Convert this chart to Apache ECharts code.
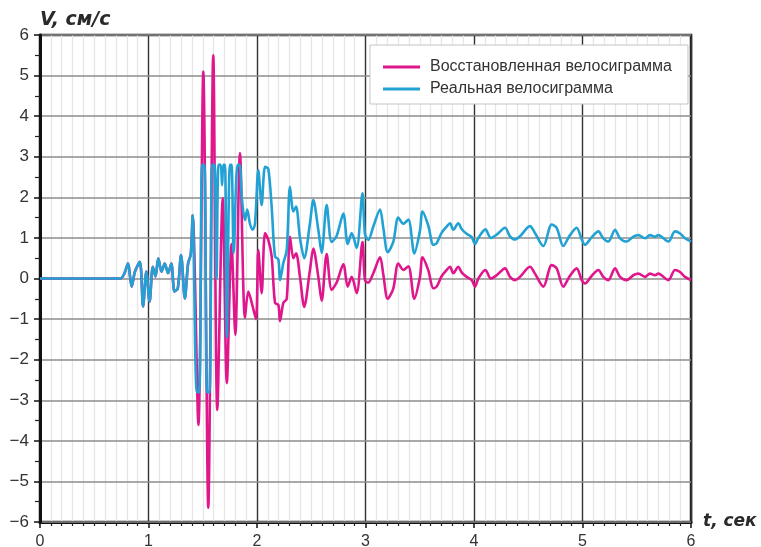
<!DOCTYPE html>
<html>
<head>
<meta charset="utf-8">
<script src="https://cdn.jsdelivr.net/npm/echarts@6/dist/echarts.min.js"></script>
<style>
  html, body { margin: 0; padding: 0; background: #fff; }
  #main { width: 761px; height: 547px; }
</style>
</head>
<body>
<div id="main"></div>
<script>
// restored velocigram (magenta), time in seconds / velocity in cm/s
const restoredT = [0, 0.74, 0.78, 0.81, 0.845, 0.875, 0.92, 0.95, 0.98, 1.01, 1.04, 1.065, 1.09, 1.12, 1.15, 1.18, 1.21, 1.24, 1.27, 1.30, 1.335, 1.365, 1.39, 1.407,
  1.46, 1.505, 1.551, 1.597, 1.634, 1.684, 1.722, 1.765, 1.80, 1.843, 1.889, 1.92, 1.96, 1.991, 2.012, 2.043, 2.074, 2.104, 2.135, 2.166, 2.197, 2.212, 2.243, 2.274,
  2.304, 2.335, 2.36, 2.396, 2.435, 2.488, 2.519, 2.565, 2.596, 2.642, 2.688, 2.734, 2.796, 2.836, 2.873, 2.919, 2.972, 2.995, 3.026, 3.072, 3.134, 3.164, 3.205,
  3.256, 3.302, 3.349, 3.395, 3.45, 3.502, 3.525, 3.579, 3.625, 3.656, 3.70, 3.748, 3.779, 3.809, 3.855, 3.886, 3.932, 3.979, 4.009, 4.04, 4.105, 4.155, 4.209,
  4.286, 4.332, 4.378, 4.424, 4.516, 4.562, 4.639, 4.716, 4.762, 4.823, 4.88, 4.946, 4.993, 5.023, 5.08, 5.146, 5.192, 5.238, 5.30, 5.346, 5.407, 5.468, 5.515,
  5.576, 5.622, 5.668, 5.699, 5.791, 5.853, 5.899, 5.945, 6.0];
const restoredV = [0, 0, 0.14, 0.37, -0.2, 0.17, 0.41, -0.69, 0.17, -0.57, 0.29, 0.05, 0.5, 0.17, 0.37, 0.13, 0.37, -0.32, -0.24, 0.58, -0.49, 0.37, 0.6, 1.56,
  -3.61, 5.1, -5.65, 5.5, -3.24, 1.98, -2.58, 0.85, -1.39, 3.09, -0.97, -0.32, -0.69, -1.0, 0.7, -0.36, 1.12, 0.95, 0.55, -0.6, -0.65, -1.05, -0.6, -0.5,
  1.03, 0.5, 0.62, 0.04, -0.7, 0.21, 0.74, 0.04, -0.55, 0.6, -0.28, -0.1, 0.35, -0.2, 0.04, -0.36, 0.9, -0.04, -0.1, 0.13, 0.52, 0.1, -0.5,
  -0.25, 0.37, 0.21, 0.3, -0.5, 0.04, 0.52, 0.2, -0.24, -0.2, 0.05, 0.21, 0.29, 0.13, 0.29, 0.15, 0.04, -0.04, -0.2, 0.0, 0.21, 0.0, 0.08,
  0.25, 0.04, -0.04, 0.04, 0.29, 0.12, -0.2, 0.33, 0.25, -0.2, 0.05, 0.25, -0.04, -0.12, 0.05, 0.21, 0.04, -0.04, 0.25, 0.04, -0.04, 0.08, 0.12,
  0.04, 0.12, 0.08, 0.12, -0.04, 0.21, 0.16, 0.04, -0.04];

// real velocigram (blue)
const realT = [0, 0.74, 0.78, 0.81, 0.845, 0.875, 0.92, 0.95, 0.98, 1.01, 1.04, 1.065, 1.09, 1.12, 1.15, 1.18, 1.21, 1.24, 1.27, 1.30, 1.335, 1.365, 1.39, 1.407,
  1.445, 1.468, 1.494, 1.516, 1.539, 1.563, 1.586, 1.608, 1.627, 1.645, 1.665, 1.678, 1.69, 1.705, 1.722, 1.75, 1.765, 1.785, 1.82, 1.84, 1.86, 1.889, 1.91,
  1.935, 1.96, 1.982, 2.012, 2.043, 2.074, 2.104, 2.135, 2.166, 2.197, 2.212, 2.243, 2.274,
  2.304, 2.335, 2.36, 2.396, 2.435, 2.488, 2.519, 2.565, 2.596, 2.642, 2.688, 2.734, 2.796, 2.836, 2.873, 2.919, 2.972, 2.995, 3.026, 3.072, 3.134, 3.164, 3.205,
  3.256, 3.302, 3.349, 3.395, 3.45, 3.502, 3.525, 3.579, 3.625, 3.656, 3.70, 3.748, 3.779, 3.809, 3.855, 3.886, 3.932, 3.979, 4.009, 4.04, 4.105, 4.155, 4.209,
  4.286, 4.332, 4.378, 4.424, 4.516, 4.562, 4.639, 4.716, 4.762, 4.823, 4.88, 4.946, 4.993, 5.023, 5.08, 5.146, 5.192, 5.238, 5.30, 5.346, 5.407, 5.468, 5.515,
  5.576, 5.622, 5.668, 5.699, 5.791, 5.853, 5.899, 5.945, 6.0];
const realV = [0, 0, 0.14, 0.37, -0.2, 0.17, 0.41, -0.69, 0.17, -0.57, 0.29, 0.05, 0.5, 0.17, 0.37, 0.13, 0.37, -0.32, -0.24, 0.58, -0.49, 0.37, 0.6, 1.56,
  -2.8, -2.8, 2.8, 2.8, -2.8, -2.8, 2.8, 2.8, 0.0, 2.8, 2.8, 2.3, 2.8, 2.8, -1.44, 2.8, 2.8, 0.63, 2.8, 2.8, 2.0, 1.44, 1.7,
  1.35, 1.2, 1.36, 2.67, 1.81, 2.75, 2.7, 1.77, 0.54, 0.47, -0.04, 0.38, 0.7,
  2.26, 1.65, 1.77, 1.0, 0.5, 1.36, 1.93, 1.2, 0.63, 1.81, 0.9, 1.05, 1.6, 0.85, 1.12, 0.75, 2.1, 1.1, 0.95, 1.28, 1.7, 1.25, 0.65,
  0.9, 1.5, 1.35, 1.45, 0.62, 1.18, 1.65, 1.3, 0.83, 0.87, 1.12, 1.28, 1.36, 1.2, 1.36, 1.22, 1.1, 1.02, 0.85, 1.0, 1.21, 1.0, 1.08,
  1.25, 1.04, 0.96, 1.04, 1.29, 1.12, 0.8, 1.33, 1.25, 0.8, 1.05, 1.25, 0.96, 0.83, 1.0, 1.16, 0.99, 0.91, 1.2, 0.99, 0.91, 1.03, 1.07,
  0.99, 1.07, 1.03, 1.07, 0.91, 1.16, 1.11, 0.99, 0.91];

const seriesNames = ['Восстановленная велосиграмма', 'Реальная велосиграмма'];
const xTicks = [0, 6];
const yTicks = [-6, 6];

const font = 'Liberation Sans, Arial, sans-serif';
const nameFont = 'DejaVu Sans, sans-serif';
const pairs = (ts, vs) => ts.map((t, i) => [t, vs[i]]);

let myChart = echarts.init(document.getElementById('main'));
myChart.setOption({
  animation: false,
  backgroundColor: '#fff',
  grid: {
    left: 40, right: 70, top: 35, bottom: 25, outerBoundsMode: 'none', containLabel: false,
    show: true, borderColor: '#222', borderWidth: 2.5, backgroundColor: '#fff'
  },
  legend: {
    orient: 'vertical',
    left: 370, top: 45,
    padding: [14, 16, 7, 13],
    itemWidth: 37, itemHeight: 3, itemGap: 6,
    backgroundColor: '#fff', borderColor: '#c4c4c4', borderWidth: 1, borderRadius: 0,
    textStyle: { fontFamily: font, fontSize: 16, color: '#333', lineHeight: 16, padding: [0, 0, 0, 5] },
    data: [
      { name: seriesNames[0], icon: 'rect' },
      { name: seriesNames[1], icon: 'rect' }
    ]
  },
  xAxis: {
    type: 'value', min: xTicks[0], max: xTicks[1], interval: 1, z: 0,
    name: 't, сек', nameLocation: 'end', nameGap: 12,
    nameTextStyle: { fontFamily: nameFont, fontSize: 17, fontWeight: 'bold', fontStyle: 'italic', color: '#2a2a2a', padding: [0, 0, 8, 0] },
    axisLine: { show: true, onZero: false, lineStyle: { color: '#111', width: 3 } },
    axisTick: { show: true, inside: false, length: 6, lineStyle: { color: '#111', width: 1.5 } },
    minorTick: { show: true, splitNumber: 10, length: 4, lineStyle: { color: '#222', width: 1.2 } },
    splitLine: { show: true, lineStyle: { color: '#333', width: 1.4 } },
    minorSplitLine: { show: true, lineStyle: { color: '#e6e6e6', width: 1.3 } },
    axisLabel: { fontFamily: font, fontSize: 16, color: '#333', margin: 12 }
  },
  yAxis: {
    type: 'value', min: yTicks[0], max: yTicks[1], interval: 1, z: 1,
    name: 'V, см/с', nameLocation: 'end', nameGap: 5,
    nameTextStyle: { fontFamily: nameFont, fontSize: 19, fontWeight: 'bold', fontStyle: 'italic', color: '#2a2a2a', align: 'left' },
    axisLine: { show: true, onZero: false, lineStyle: { color: '#111', width: 3 } },
    axisTick: { show: true, inside: false, length: 6, lineStyle: { color: '#111', width: 1.5 } },
    minorTick: { show: true, splitNumber: 2, length: 5, lineStyle: { color: '#222', width: 1.2 } },
    splitLine: { show: true, lineStyle: { color: '#8c8c8c', width: 1.5 } },
    axisLabel: {
      fontFamily: font, fontSize: 17, color: '#333', margin: 11,
      formatter: v => String(v).replace('-', '\u2212')
    }
  },
  series: [
    {
      name: seriesNames[0], type: 'line', data: pairs(restoredT, restoredV), z: 3,
      showSymbol: false, smooth: 0.3, lineStyle: { color: '#e0168c', width: 2.6 }, itemStyle: { color: '#e0168c' }
    },
    {
      name: seriesNames[1], type: 'line', data: pairs(realT, realV), z: 3,
      showSymbol: false, smooth: 0.3, lineStyle: { color: '#22a2d4', width: 2.6 }, itemStyle: { color: '#22a2d4' }
    }
  ]
});
</script>
</body>
</html>
